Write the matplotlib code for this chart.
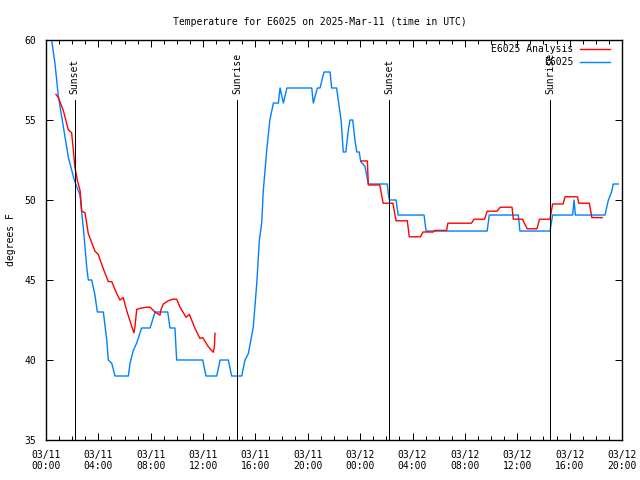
import numpy as np
import pandas as pd
import matplotlib
matplotlib.use('Agg')
import matplotlib.pyplot as plt
import matplotlib.dates as mdates

plt.rcParams['font.family'] = 'DejaVu Sans Mono'
plt.rcParams['font.size'] = 7

t0 = pd.Timestamp('2025-03-11 00:00')

# E6025 observations (hours since 03/11 00:00 UTC, deg F)
obs_hours = [0.43, 0.69, 0.94, 1.32, 1.7, 2.09, 2.2, 2.6, 2.73, 2.85, 3.11, 3.23, 3.49, 3.74,
             3.92, 4.38, 4.64, 4.76, 5.02, 5.27, 6.29, 6.42, 6.67, 6.93, 7.3, 7.95, 8.33, 9.3,
             9.47, 9.85, 9.98, 11.97, 12.22, 13.04, 13.3, 13.93, 14.18, 14.95, 15.2, 15.46,
             15.84, 16.1, 16.3, 16.48, 16.6, 16.86, 17.1, 17.37, 17.75, 17.88, 18.13, 18.4,
             20.3, 20.42, 20.73, 20.93, 21.24, 21.7, 21.82, 22.2, 22.4, 22.54, 22.71, 22.9,
             23.1, 23.22, 23.43, 23.6, 23.74, 23.93, 24.04, 24.37, 24.62, 26.07, 26.15, 26.23,
             26.74, 26.9, 28.88, 29.03, 33.7, 33.86, 36.08, 36.2, 38.5, 38.7, 40.23, 40.34,
             40.44, 42.7, 42.96, 43.2, 43.34, 43.72]
obs_temp = [60.0, 58.5, 56.5, 54.6, 52.7, 51.46, 51.15, 50.3, 49.2, 48.3, 45.8, 45.0, 45.0, 44.06,
            43.0, 43.0, 41.25, 40.0, 39.8, 39.0, 39.0, 39.8, 40.6, 41.06, 42.0, 42.0, 43.0, 43.0,
            42.0, 42.0, 40.0, 40.0, 39.0, 39.0, 40.0, 40.0, 39.0, 39.0, 40.0, 40.4,
            42.1, 44.8, 47.5, 48.6, 50.6, 53.1, 55.0, 56.06, 56.06, 57.0, 56.06, 57.0,
            57.0, 56.06, 57.0, 57.0, 58.0, 58.0, 57.0, 57.0, 55.8, 55.0, 53.0, 53.0,
            54.4, 55.0, 55.0, 53.75, 53.0, 53.0, 52.4, 52.1, 51.0, 51.0, 50.4, 50.0,
            50.0, 49.06, 49.06, 48.06, 48.06, 49.06, 49.06, 48.06, 48.06, 49.06, 49.06, 50.0,
            49.06, 49.06, 50.0, 50.5, 51.0, 51.0]

# E6025 Analysis, two separate runs
ana1_hours = [0.76, 0.94, 1.32, 1.7, 1.96, 2.09, 2.2, 2.39, 2.6, 2.73, 2.98, 3.23, 3.74, 3.99,
              4.38, 4.76, 5.02, 5.27, 5.65, 5.9, 6.16, 6.55, 6.72, 6.8, 6.93, 7.31, 7.69, 7.95,
              8.33, 8.71, 8.76, 8.96, 9.34, 9.68, 9.98, 10.24, 10.7, 10.95, 11.38, 11.76, 11.97,
              12.4, 12.78, 12.86, 12.91]
ana1_temp = [56.6, 56.4, 55.6, 54.4, 54.2, 53.1, 52.1, 51.25, 50.6, 49.3, 49.2, 47.9, 46.8, 46.6,
             45.7, 44.9, 44.9, 44.4, 43.75, 43.9, 43.1, 42.1, 41.7, 42.1, 43.17, 43.25, 43.3, 43.3,
             43.0, 42.8, 43.1, 43.5, 43.7, 43.8, 43.8, 43.3, 42.67, 42.85, 41.98, 41.35, 41.4,
             40.83, 40.48, 40.8, 41.67]
ana2_hours = [24.06, 24.55, 24.62, 25.5, 25.75, 26.5, 26.74, 27.6, 27.75, 28.6, 28.8, 29.6, 29.7,
              30.6, 30.7, 32.5, 32.7, 33.5, 33.7, 34.45, 34.7, 35.6, 35.7, 36.4, 36.75, 37.5,
              37.7, 38.5, 38.7, 39.5, 39.65, 40.6, 40.7, 41.5, 41.7, 42.5]
ana2_temp = [52.44, 52.44, 50.94, 50.94, 49.8, 49.8, 48.7, 48.7, 47.7, 47.7, 48.0, 48.0, 48.1,
             48.1, 48.55, 48.55, 48.8, 48.8, 49.3, 49.3, 49.55, 49.55, 48.8, 48.8, 48.2, 48.2,
             48.8, 48.8, 49.75, 49.75, 50.2, 50.2, 49.8, 49.8, 48.9, 48.9]

sun_hours = [2.2, 14.6, 26.2, 38.5]
sun_labels = ['Sunset', 'Sunrise', 'Sunset', 'Sunrise']

LW = 0.72  # one pixel at 100 dpi


def to_time(h):
    return t0 + pd.to_timedelta(np.array(h), unit='h')


fig = plt.figure(figsize=(6.4, 4.8), dpi=100)
ax = fig.add_axes([46/640, 40/480, 576/640, 400/480])

ax.plot(to_time(obs_hours), obs_temp, color='#0080ff', lw=1)
ax.plot(to_time(ana1_hours), ana1_temp, color='red', lw=1)
ax.plot(to_time(ana2_hours), ana2_temp, color='red', lw=1)

for h, lab in zip(sun_hours, sun_labels):
    x = to_time([h])[0]
    ax.plot([x, x], [35, 56.25], color='black', lw=LW, antialiased=False)
    ax.text(x, 56.6, lab, rotation=90, ha='center', va='bottom')

ax.set_xlim(to_time([0])[0], to_time([44])[0])
ax.set_ylim(35, 60)
ax.set_yticks([35, 40, 45, 50, 55, 60])
ax.xaxis.set_major_locator(mdates.HourLocator(byhour=range(0, 24, 4)))
ax.xaxis.set_minor_locator(mdates.HourLocator())
ax.xaxis.set_major_formatter(mdates.DateFormatter('%m/%d\n%H:%M'))
ax.tick_params(direction='in', top=True, right=True, length=5, width=LW, pad=7)
ax.tick_params(which='minor', direction='in', top=True, length=3, width=LW)
for s in ax.spines.values():
    s.set_linewidth(1)

ax.set_ylabel('degrees F', labelpad=6)
fig.suptitle('Temperature for E6025 on 2025-Mar-11 (time in UTC)', y=0.965, fontsize=7)

# key, gnuplot style
ax.text(0.915, 0.977, 'E6025 Analysis', ha='right', va='center', transform=ax.transAxes)
ax.plot([0.927, 0.979], [0.977, 0.977], color='red', lw=1, transform=ax.transAxes)
ax.text(0.915, 0.945, 'E6025', ha='right', va='center', transform=ax.transAxes)
ax.plot([0.927, 0.979], [0.945, 0.945], color='#0080ff', lw=1, transform=ax.transAxes)

fig.savefig('out.png', dpi=100)
